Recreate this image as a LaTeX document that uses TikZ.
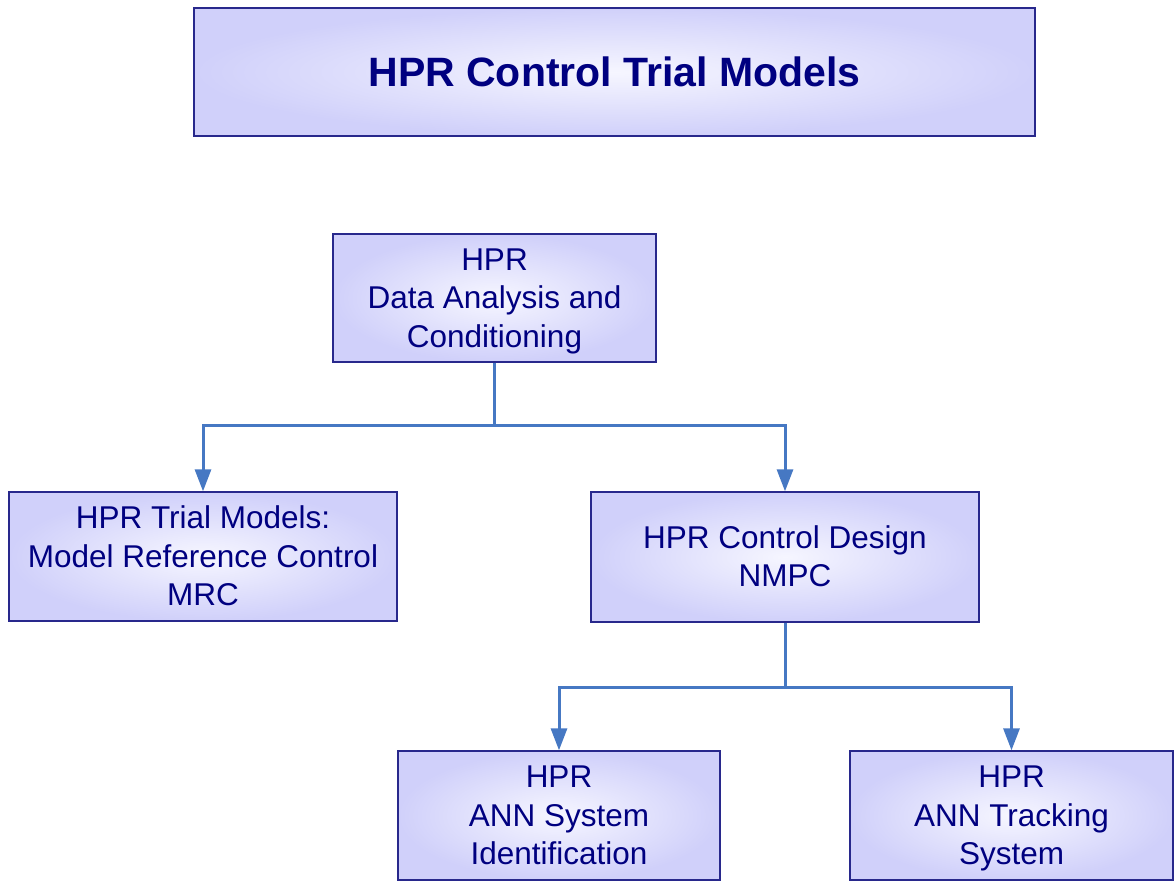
\documentclass[tikz,border=0pt]{standalone}
\usepackage{fontspec}
\setmainfont{Liberation Sans}
\usetikzlibrary{arrows.meta}
\definecolor{navytext}{RGB}{0,0,128}
\definecolor{boxedge}{RGB}{40,40,140}
\definecolor{boxout}{RGB}{208,208,250}
\definecolor{boxin}{RGB}{246,246,255}
\definecolor{conncol}{RGB}{70,120,195}
\newcommand{\topstr}{\rule[-11.55pt]{0pt}{44.5pt}}
\tikzset{
  box/.style={draw=boxedge, line width=1.3pt, inner color=boxin, outer color=boxout,
    rectangle, inner sep=0pt, text=navytext, align=center,
    font=\fontsize{31.5}{38.5}\selectfont},
  conn/.style={draw=conncol, line width=3pt},
  arr/.style={conn, -{Triangle[length=22pt,width=16pt]}}
}
\begin{document}
\begin{tikzpicture}[x=1pt,y=-1pt]
\useasboundingbox (0,0) rectangle (1175,881);
\node[box, minimum width=841pt, minimum height=128pt,
  font=\fontsize{41}{46}\selectfont\bfseries] (title) at (614.5,72) {\raisebox{1.5pt}{HPR Control Trial Models}};
\node[box, minimum width=323pt, minimum height=128pt] (dac) at (494.5,298) {\topstr HPR\\\strut Data Analysis and\\\strut Conditioning};
\node[box, minimum width=388pt, minimum height=129pt] (tm) at (203,556.5) {\topstr HPR Trial Models:\\\strut Model Reference Control\\\strut MRC};
\node[box, minimum width=388pt, minimum height=130pt] (cd) at (785,557) {\topstr HPR Control Design\\\strut NMPC};
\node[box, minimum width=322pt, minimum height=129pt] (sid) at (559,815.5) {\topstr HPR\\\strut ANN System\\\strut Identification};
\node[box, minimum width=323pt, minimum height=129pt] (trk) at (1011.5,815.5) {\topstr HPR\\\strut ANN Tracking\\\strut System};
\coordinate (j1) at (494.5,425);
\coordinate (j2) at (785,687);
\draw[conn] (dac.south) -- (j1);
\draw[arr] (j1) -| (tm.north);
\draw[arr] (j1) -| (cd.north);
\draw[conn] (cd.south) -- (j2);
\draw[arr] (j2) -| (sid.north);
\draw[arr] (j2) -| (trk.north);
\end{tikzpicture}
\end{document}
